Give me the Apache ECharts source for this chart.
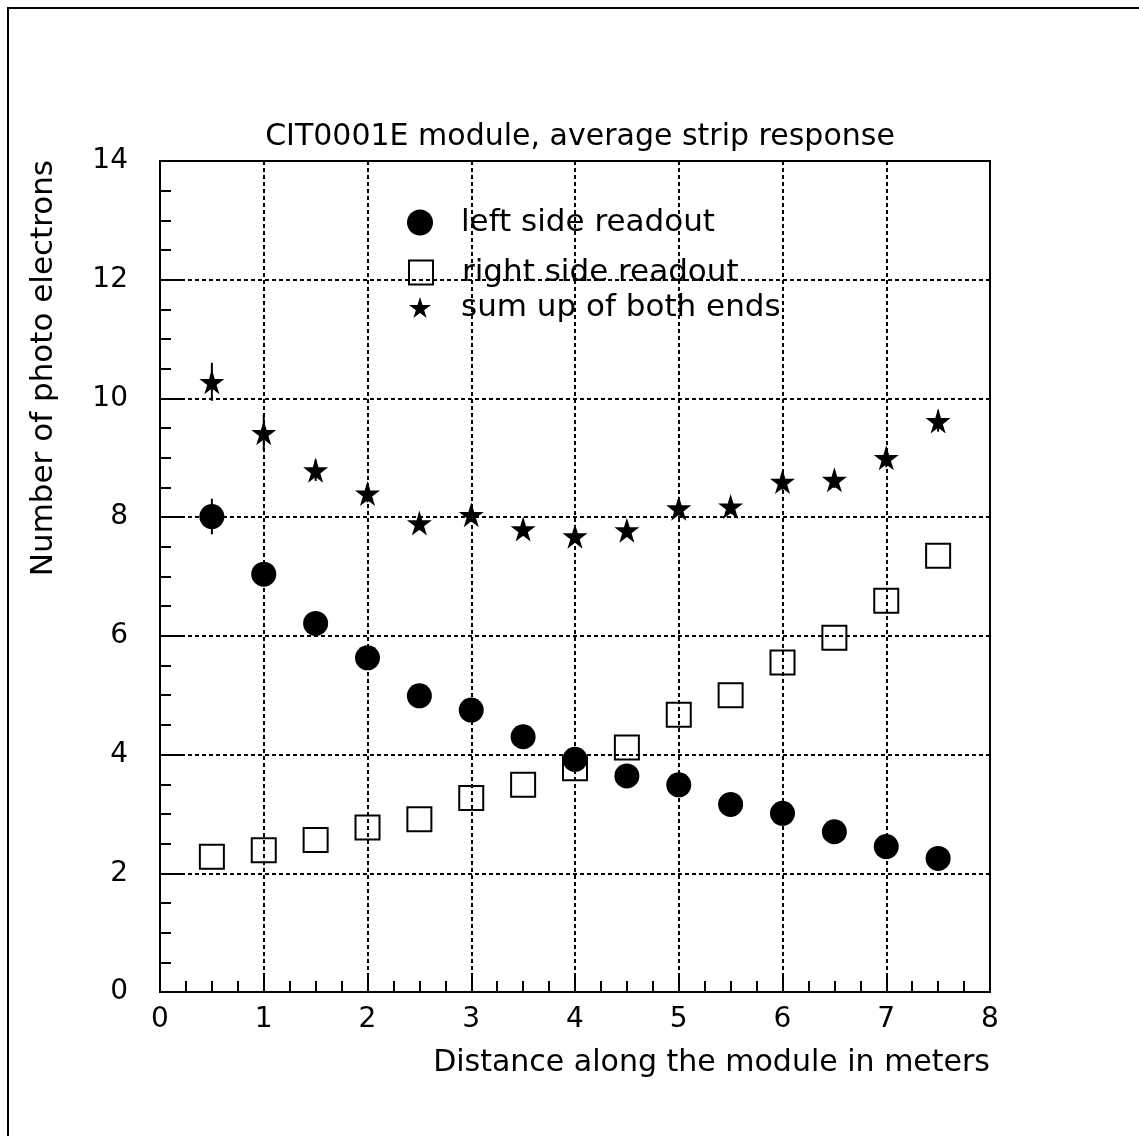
<!DOCTYPE html>
<html>
<head>
<meta charset="utf-8">
<script src="https://cdn.jsdelivr.net/npm/echarts@6/dist/echarts.min.js"></script>
<style>
  html, body { margin: 0; padding: 0; background: #fff; }
  #main { width: 1139px; height: 1136px; }
</style>
</head>
<body>
<div id="main"></div>
<script>
// distance along the module (m)
const distance = [0.5, 1, 1.5, 2, 2.5, 3, 3.5, 4, 4.5, 5, 5.5, 6, 6.5, 7, 7.5];

// photo electrons
const leftSide = [8.01, 7.04, 6.21, 5.63, 4.99, 4.75, 4.30, 3.92, 3.64, 3.49, 3.16, 3.01, 2.70, 2.45, 2.25];
const rightSide = [2.28, 2.39, 2.56, 2.77, 2.91, 3.27, 3.49, 3.77, 4.12, 4.67, 5.00, 5.55, 5.97, 6.59, 7.35];
const sumBoth = [10.28, 9.42, 8.79, 8.40, 7.90, 8.04, 7.80, 7.68, 7.78, 8.15, 8.18, 8.60, 8.63, 9.00, 9.62];

// vertical errors (only the first few stick out of the markers)
const leftErr = [0.30, 0.20, 0.15, 0.12, 0.10, 0.10, 0.10, 0.08, 0.08, 0.08, 0.08, 0.08, 0.08, 0.08, 0.08];
const sumErr = [0.32, 0.30, 0.18, 0.15, 0.12, 0.12, 0.12, 0.10, 0.10, 0.12, 0.12, 0.14, 0.14, 0.16, 0.18];

const legendNames = ["left side readout", "right side readout", "sum up of both ends"];
const titleText = "CIT0001E module, average strip response";
const xName = "Distance along the module in meters";
const yName = "Number of photo electrons";

const FONT = "DejaVu Sans";
const STAR = "path://M50,0 L61,35 L98,35 L68,57 L79,91 L50,70 L21,91 L32,57 L2,35 L39,35 Z";

const pairs = (ys) => distance.map((x, i) => [x, ys[i]]);
const errPairs = (ys, es) => distance.map((x, i) => [x, ys[i] - es[i], ys[i] + es[i]]);

function errorBars(ys, es) {
  return {
    type: "custom",
    silent: true,
    z: 1,
    data: errPairs(ys, es),
    renderItem: function (params, api) {
      const lo = api.coord([api.value(0), api.value(1)]);
      const hi = api.coord([api.value(0), api.value(2)]);
      return {
        type: "line",
        shape: { x1: lo[0], y1: lo[1], x2: hi[0], y2: hi[1] },
        style: { stroke: "#000", lineWidth: 2 }
      };
    }
  };
}

const chart = echarts.init(document.getElementById("main"));

const legendText = (pad) => ({ color: "#000", fontFamily: FONT, fontSize: 31, padding: [0, 0, 0, pad] });

const option = {
  backgroundColor: "#fff",
  animation: false,
  title: {
    text: titleText,
    left: 575,
    top: 117,
    textAlign: "center",
    textStyle: { color: "#000", fontFamily: FONT, fontSize: 30, fontWeight: "normal" }
  },
  graphic: [
    {
      type: "rect",
      shape: { x: 8, y: 8, width: 1300, height: 1300 },
      style: { fill: "none", stroke: "#000", lineWidth: 2 }
    },
    {
      type: "text",
      x: 990,
      y: 1063,
      style: {
        text: xName, fill: "#000", font: "30px '" + FONT + "'",
        textAlign: "right", textVerticalAlign: "middle"
      }
    },
    {
      type: "text",
      x: 44,
      y: 160,
      rotation: Math.PI / 2,
      style: {
        text: yName, fill: "#000", font: "31px '" + FONT + "'",
        textAlign: "right", textVerticalAlign: "middle"
      }
    }
  ],
  legend: [
    {
      data: [legendNames[0]], left: 407, top: 207, padding: 0,
      itemWidth: 26, itemHeight: 26, textStyle: legendText(23), selectedMode: false
    },
    {
      data: [legendNames[1]], left: 408, top: 257, padding: 0,
      itemWidth: 24, itemHeight: 24, textStyle: legendText(24), selectedMode: false
    },
    {
      data: [legendNames[2]], left: 409, top: 292, padding: 0,
      itemWidth: 22, itemHeight: 22, textStyle: legendText(25), selectedMode: false
    }
  ],
  grid: {
    left: 160, right: 149, top: 161, bottom: 144,
    show: true, borderColor: "#000", borderWidth: 2, backgroundColor: "transparent"
  },
  xAxis: {
    type: "value",
    min: 0, max: 8, interval: 1,
    axisLine: { show: true, lineStyle: { color: "#000", width: 2 } },
    axisTick: { show: true, inside: true, length: 18, lineStyle: { color: "#000", width: 2 } },
    minorTick: { show: true, splitNumber: 4, length: 11, lineStyle: { color: "#000", width: 2 } },
    axisLabel: { color: "#000", fontFamily: FONT, fontSize: 28, margin: 14 },
    splitLine: { show: true, lineStyle: { color: "#000", width: 2, type: [4, 3] } }
  },
  yAxis: {
    type: "value",
    min: 0, max: 14, interval: 2,
    axisLine: { show: true, lineStyle: { color: "#000", width: 2 } },
    axisTick: { show: true, inside: true, length: 22, lineStyle: { color: "#000", width: 2 } },
    minorTick: { show: true, splitNumber: 4, length: 11, lineStyle: { color: "#000", width: 2 } },
    axisLabel: { color: "#000", fontFamily: FONT, fontSize: 28, margin: 32 },
    splitLine: { show: true, lineStyle: { color: "#000", width: 2, type: [4, 3] } }
  },
  series: [
    errorBars(leftSide, leftErr),
    errorBars(sumBoth, sumErr),
    {
      name: legendNames[0],
      type: "scatter",
      z: 3,
      symbol: "circle",
      symbolSize: 25,
      itemStyle: { color: "#000", opacity: 1 },
      data: pairs(leftSide)
    },
    {
      name: legendNames[1],
      type: "scatter",
      z: 3,
      symbol: "rect",
      symbolSize: 24,
      itemStyle: { color: "rgba(0,0,0,0)", borderColor: "#000", borderWidth: 2, opacity: 1 },
      data: pairs(rightSide)
    },
    {
      name: legendNames[2],
      type: "scatter",
      z: 3,
      symbol: STAR,
      symbolSize: 25,
      itemStyle: { color: "#000", opacity: 1 },
      data: pairs(sumBoth)
    }
  ]
};

chart.setOption(option);
</script>
</body>
</html>
